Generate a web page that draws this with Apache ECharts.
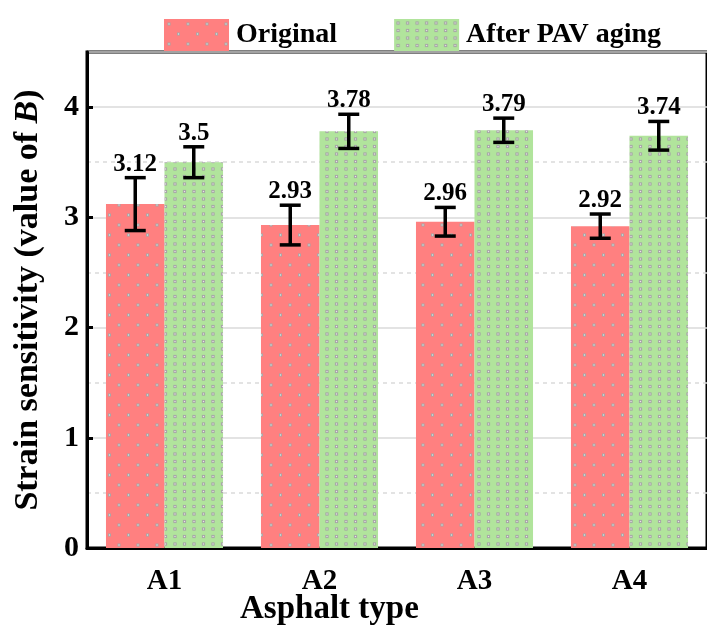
<!DOCTYPE html>
<html>
<head>
<meta charset="utf-8">
<script src="https://cdn.jsdelivr.net/npm/echarts@6/dist/echarts.min.js"></script>
<style>html,body{margin:0;padding:0;background:#fff}#c{width:707px;height:626px}</style>
</head>
<body>
<div id="c"></div>
<script>
const categories = ['A1', 'A2', 'A3', 'A4'];
const originalValues = [3.12, 2.93, 2.96, 2.92];
const originalErrors = [0.24, 0.18, 0.13, 0.11];
const pavValues = [3.5, 3.78, 3.79, 3.74];
const pavErrors = [0.14, 0.155, 0.11, 0.13];
const seriesNames = ['Original', 'After PAV aging'];
const xAxisTitle = 'Asphalt type';

const FONT = "'Times New Roman', 'Liberation Serif', serif";

function makePattern(bg, w, h, dots, s) {
  const c = document.createElement('canvas');
  c.width = w; c.height = h;
  const ctx = c.getContext('2d');
  ctx.fillStyle = bg; ctx.fillRect(0, 0, w, h);
  dots.forEach(function (d) {
    ctx.fillStyle = '#a5a5a5';
    ctx.fillRect(d[0] - s / 2, d[1] - s / 2, s, s);
    ctx.fillStyle = '#e6e6e6';
    ctx.fillRect(d[0] - 0.6, d[1] - 0.6, 1.2, 1.2);
  });
  return { image: c, repeat: 'repeat' };
}
const redPattern = makePattern('#ff8080', 19, 20, [[5, 5], [14.5, 15]], 3);
const greenPattern = makePattern('#b1e49c', 19, 15, [[4, 4], [13.5, 4], [4, 11.5], [13.5, 11.5]], 3.2);

const chart = echarts.init(document.getElementById('c'), null, { renderer: 'canvas' });

const CAT_GAP = 0.245;
function errorSeries(values, errors, side) {
  return {
    type: 'custom',
    z: 5,
    data: values.map(function (v, i) { return [i, v, errors[i]]; }),
    encode: { x: 0, y: 1 },
    renderItem: function (params, api) {
      const idx = api.value(0), v = api.value(1), e = api.value(2);
      const band = api.size([1, 0])[0];
      const bw = band * (1 - CAT_GAP) / 2;
      const c = api.coord([idx, v]);
      const x = c[0] + side * bw / 2;
      const top = api.coord([idx, v + e])[1];
      const bot = api.coord([idx, v - e])[1];
      const hw = 10.5;
      const st = { stroke: '#000', lineWidth: 3.5 };
      return {
        type: 'group',
        children: [
          { type: 'line', shape: { x1: x, y1: top, x2: x, y2: bot }, style: st },
          { type: 'line', shape: { x1: x - hw, y1: top, x2: x + hw, y2: top }, style: st },
          { type: 'line', shape: { x1: x - hw, y1: bot, x2: x + hw, y2: bot }, style: st },
          { type: 'text', x: x, y: top - 1, style: {
              text: String(v), fill: '#000', font: 'bold 25px ' + FONT,
              textAlign: 'center', textVerticalAlign: 'bottom' } }
        ]
      };
    }
  };
}

chart.setOption({
  animation: false,
  backgroundColor: '#fff',
  legend: {
    data: seriesNames,
    left: 159, top: 14,
    icon: 'rect',
    itemWidth: 65, itemHeight: 32, itemGap: 57,
    textStyle: { fontFamily: FONT, fontSize: 28, fontWeight: 'bold', color: '#000', padding: [0, 0, 0, 2] }
  },
  graphic: [
    { type: 'text', left: 240, top: 593, style: { text: xAxisTitle, font: 'bold 33px ' + FONT, fill: '#000' } }
  ],
  grid: { left: 87, top: 52, right: -5, bottom: 78, show: true, borderColor: '#000', borderWidth: 3, backgroundColor: 'transparent' },
  xAxis: {
    type: 'category',
    data: categories,
    axisLine: { lineStyle: { color: '#000', width: 3 } },
    axisTick: { show: false },
    axisLabel: { fontFamily: FONT, fontSize: 29, fontWeight: 'bold', color: '#000', margin: 19 }
  },
  yAxis: {
    type: 'value',
    min: 0, max: 4.5, interval: 1,
    name: 'Strain sensitivity (value of {i|B})',
    nameLocation: 'middle',
    nameGap: 42,
    nameTextStyle: { fontFamily: FONT, fontSize: 34, fontWeight: 'bold', color: '#000',
      rich: { i: { fontFamily: FONT, fontSize: 34, fontWeight: 'bold', fontStyle: 'italic', color: '#000' } } },
    axisLine: { show: true, lineStyle: { color: '#000', width: 3 } },
    axisTick: { show: true, inside: true, length: 6, lineStyle: { color: '#000', width: 3 } },
    axisLabel: { fontFamily: FONT, fontSize: 30, fontWeight: 'bold', color: '#000', margin: 8, showMaxLabel: false,
      formatter: function (v) { return v > 4.01 ? '' : String(v); } },
    splitLine: { show: true, lineStyle: { color: '#dadada', width: 1.5 } },
    minorTick: { show: false, splitNumber: 2 },
    minorSplitLine: { show: true, lineStyle: { color: '#dadada', width: 1.5, type: [4, 4] } }
  },
  series: [
    { name: seriesNames[0], type: 'bar', data: originalValues, barGap: '0%', barCategoryGap: (CAT_GAP * 100) + '%',
      itemStyle: { color: redPattern } },
    { name: seriesNames[1], type: 'bar', data: pavValues, barGap: '0%', barCategoryGap: (CAT_GAP * 100) + '%',
      itemStyle: { color: greenPattern } },
    errorSeries(originalValues, originalErrors, -1),
    errorSeries(pavValues, pavErrors, 1)
  ]
});
</script>
</body>
</html>
